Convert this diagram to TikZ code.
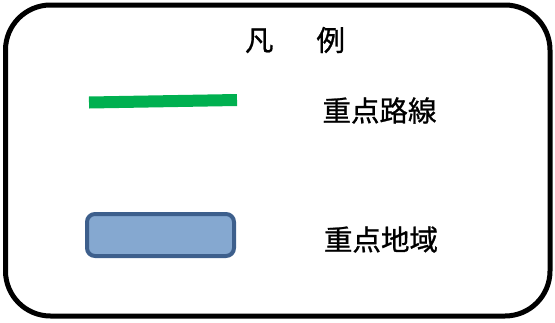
\documentclass[tikz,border=0pt]{standalone}
\usepackage{fontspec}
\newfontfamily\cjk{Noto Sans CJK JP}[FakeBold=0.9]
\definecolor{routegreen}{HTML}{00B050}
\definecolor{areafill}{HTML}{85A8D0}
\definecolor{areaedge}{HTML}{3D5F8C}
\begin{document}
\begin{tikzpicture}[x=1pt,y=-1pt,
  frame/.style={draw=black,line width=5pt,rounded corners=45pt},
  legendtext/.style={font=\cjk\fontsize{28.5}{31}\selectfont,inner sep=0pt,anchor=center},
  routeline/.style={draw=routegreen,line width=12pt},
  areabox/.style={draw=areaedge,fill=areafill,line width=4pt,rounded corners=8pt}]
\useasboundingbox (0,0) rectangle (555,322);
\draw[frame] (5.5,5) rectangle (550,316);
\node[legendtext] (title) at (295,40) {凡\hspace{43pt}例};
\coordinate (rs) at (89,102.5);
\coordinate (re) at (237,100);
\draw[routeline] (rs) -- (re);
\node[legendtext] (routelabel) at (379.5,110.5) {重点路線};
\draw[areabox] (87,214) rectangle (234,256);
\node[legendtext] (arealabel) at (381,239.5) {重点地域};
\end{tikzpicture}
\end{document}
